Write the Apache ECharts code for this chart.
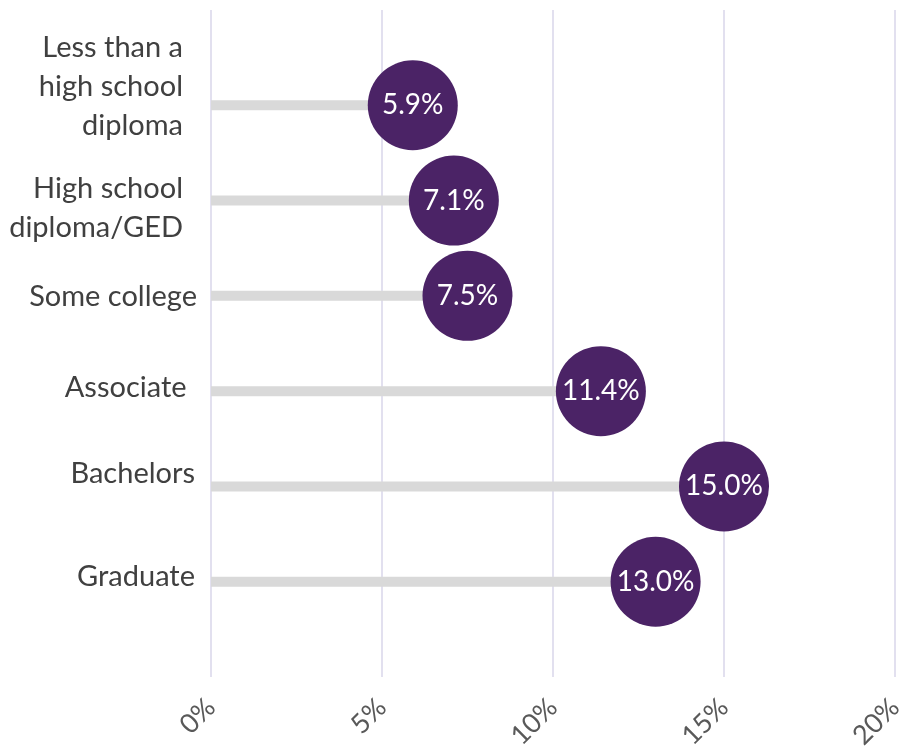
<!DOCTYPE html>
<html>
<head>
<meta charset="utf-8">
<script src="https://cdn.jsdelivr.net/npm/echarts@6/dist/echarts.min.js"></script>
<style>
  html, body { margin: 0; padding: 0; background: #fff; }
  #chart { width: 915px; height: 753px; }
</style>
</head>
<body>
<div id="chart"></div>
<script>
// Education levels and their percentages
var categories = [
  'Less than a\nhigh school\ndiploma',
  'High school\ndiploma/GED',
  'Some college',
  'Associate ',
  'Bachelors',
  'Graduate'
];
var values = [5.9, 7.1, 7.5, 11.4, 15.0, 13.0];
var xTicks = [0, 5, 10, 15, 20];

// Per-label nudges [right inset, lift] for the wrapped category labels
var labelNudge = [[14, 38], [14, -16], [0, -2], [3, 8], [2, 26], [2, 10]];

var FONT = 'Lato, "Open Sans", sans-serif';

// One empty slot above and below the rows gives the plot its margins
var slots = [''].concat(categories, ['']);
var padded = ['-'].concat(values, ['-']);

var rich = {};
categories.forEach(function (c, i) {
  var n = labelNudge[i];
  rich['c' + i] = {
    fontFamily: FONT,
    fontSize: 29,
    lineHeight: 39,
    color: '#404040',
    align: 'right',
    padding: [n[1] < 0 ? -n[1] : 0, n[0], n[1] > 0 ? n[1] : 0, 0]
  };
});

var chart = echarts.init(document.getElementById('chart'));
chart.setOption({
  animation: false,
  grid: { left: 211, right: 20, top: 10, bottom: 76, containLabel: false },
  xAxis: {
    type: 'value',
    min: xTicks[0],
    max: xTicks[xTicks.length - 1],
    interval: 5,
    axisLine: { show: false },
    axisTick: { show: false },
    splitLine: { show: true, lineStyle: { color: '#d9d6ea', width: 1.5 } },
    axisLabel: {
      rotate: 45,
      margin: 26,
      fontFamily: FONT,
      fontSize: 27,
      color: '#595959',
      formatter: '{value}%'
    }
  },
  yAxis: {
    type: 'category',
    data: slots,
    inverse: true,
    boundaryGap: false,
    axisLine: { show: false },
    axisTick: { show: false },
    splitLine: { show: false },
    axisLabel: {
      margin: 14,
      fontFamily: FONT,
      fontSize: 29,
      lineHeight: 39,
      color: '#404040',
      align: 'right',
      rich: rich,
      formatter: function (v) {
        var i = categories.indexOf(v);
        if (i < 0) return '';
        return v.split('\n').map(function (line) {
          return '{c' + i + '|' + line + '}';
        }).join('\n');
      }
    }
  },
  series: [
    {
      type: 'bar',
      data: padded,
      barWidth: 10,
      itemStyle: { color: '#d9d9d9' },
      z: 2
    },
    {
      type: 'scatter',
      data: padded,
      symbol: 'circle',
      symbolSize: 90,
      itemStyle: { color: '#4b2366', opacity: 1 },
      label: {
        show: true,
        position: 'inside',
        fontFamily: FONT,
        fontSize: 28,
        color: '#ffffff',
        formatter: function (p) { return p.value.toFixed(1) + '%'; }
      },
      z: 3
    }
  ]
});
</script>
</body>
</html>
